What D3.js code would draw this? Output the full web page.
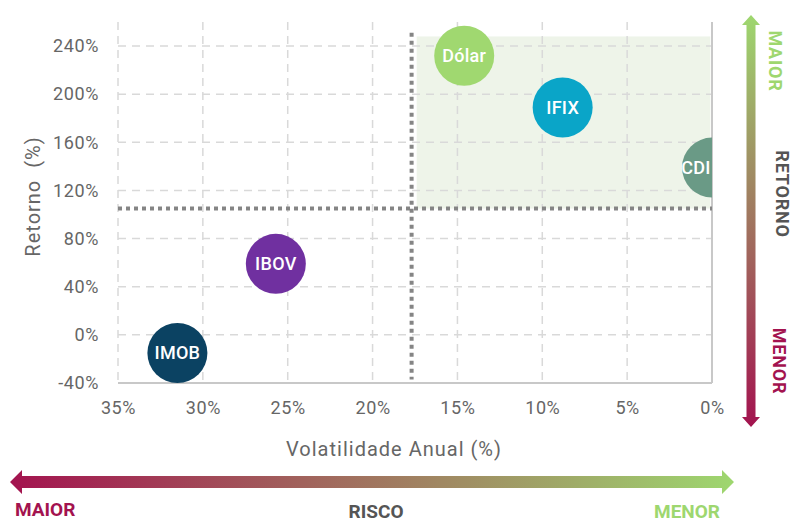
<!DOCTYPE html>
<html>
<head>
    <meta charset="utf-8">
    <script src="https://d3js.org/d3.v7.min.js"></script>
    <style>
        body { margin: 0; background: #fff; }
        text { font-family: Roboto, "Noto Sans", sans-serif; }
    </style>
</head>
<body>
<div id="container"></div>
<script>
    // dados do gráfico
    var assets = ["IMOB", "IBOV", "Dólar", "IFIX", "CDI"];
    var volatility = [31.5, 25.7, 14.6, 8.8, 0];
    var returns = [-15, 59, 232, 189, 139];
    var colors = ["#0b4262", "#7030a0", "#a0d870", "#0aa5c8", "#6a9a86"];

    var xTicks = [35, 30, 25, 20, 15, 10, 5, 0];
    var yTicks = [-40, 0, 40, 80, 120, 160, 200, 240];

    // linhas de referência (médias) e quadrante destacado
    var refVol = 17.7, refRet = 105;
    var refVolSpan = [-37, 251];
    var zoneVol = [17.4, 0.1], zoneRet = [105, 248];

    var svg_width = 792, svg_height = 524,
        margin = {left: 118, top: 22, right: 80, bottom: 141},
        width = svg_width - margin.left - margin.right,
        height = svg_height - margin.top - margin.bottom;

    var green = "#9ed76f", crimson = "#a3134f", darkGray = "#555";

    var svg = d3.select("#container").append("svg")
        .attr("width", svg_width)
        .attr("height", svg_height);

    var defs = svg.append("defs");
    defs.append("clipPath").attr("id", "plot-clip")
        .append("rect").attr("x", 0).attr("y", -margin.top).attr("width", width).attr("height", height + margin.top);

    var gv = defs.append("linearGradient").attr("id", "grad-v")
        .attr("x1", 0).attr("y1", 0).attr("x2", 0).attr("y2", 1);
    gv.append("stop").attr("offset", "0%").attr("stop-color", green);
    gv.append("stop").attr("offset", "100%").attr("stop-color", crimson);

    var gh = defs.append("linearGradient").attr("id", "grad-h")
        .attr("x1", 0).attr("y1", 0).attr("x2", 1).attr("y2", 0);
    gh.append("stop").attr("offset", "0%").attr("stop-color", crimson);
    gh.append("stop").attr("offset", "100%").attr("stop-color", green);

    var chart = svg.append("g")
        .attr("transform", `translate(${margin.left},${margin.top})`);

    var x = d3.scaleLinear().domain([35, 0]).range([0, width]);
    var y = d3.scaleLinear().domain([-40, 260]).range([height, 0]);

    // quadrante destacado
    chart.append("rect")
        .attr("x", x(zoneVol[0]))
        .attr("y", y(zoneRet[1]))
        .attr("width", x(zoneVol[1]) - x(zoneVol[0]))
        .attr("height", y(zoneRet[0]) - y(zoneRet[1]))
        .attr("fill", "#eef4e9");

    // grades tracejadas
    chart.append("g").selectAll("line")
        .data(xTicks.filter(v => v !== 0))
        .join("line")
        .attr("x1", d => x(d)).attr("x2", d => x(d))
        .attr("y1", 0).attr("y2", height)
        .attr("stroke", "#d9d9d9").attr("stroke-width", 1.5)
        .attr("stroke-dasharray", "8,6");

    chart.append("g").selectAll("line")
        .data(yTicks.filter(v => v !== -40))
        .join("line")
        .attr("x1", 0).attr("x2", width)
        .attr("y1", d => y(d)).attr("y2", d => y(d))
        .attr("stroke", "#d9d9d9").attr("stroke-width", 1.5)
        .attr("stroke-dasharray", "8,6");

    // eixos
    var axisX = d3.axisBottom(x).tickValues(xTicks).tickSize(0).tickPadding(18)
        .tickFormat(d => d + "%");
    var gx = chart.append("g").attr("transform", `translate(0,${height})`).call(axisX);
    gx.select(".domain").remove();

    var axisY = d3.axisLeft(y).tickValues(yTicks).tickSize(0).tickPadding(19)
        .tickFormat(d => d + "%");
    var gy = chart.append("g").call(axisY);
    gy.select(".domain").remove();

    [gx, gy].forEach(g => g.selectAll("text")
        .style("font-family", "Roboto, sans-serif")
        .style("font-size", "18px")
        .style("letter-spacing", "0.6px")
        .attr("fill", "#666"));

    chart.append("line")
        .attr("x1", 0).attr("x2", width).attr("y1", height).attr("y2", height)
        .attr("stroke", "#c8c8c8").attr("stroke-width", 2);
    chart.append("line")
        .attr("x1", width).attr("x2", width).attr("y1", 0).attr("y2", height)
        .attr("stroke", "#c8c8c8").attr("stroke-width", 2);

    // linhas pontilhadas de referência
    chart.append("line")
        .attr("x1", 0).attr("x2", width)
        .attr("y1", y(refRet)).attr("y2", y(refRet))
        .attr("stroke", "#858585").attr("stroke-width", 4)
        .attr("stroke-dasharray", "4,4");
    chart.append("line")
        .attr("x1", x(refVol)).attr("x2", x(refVol))
        .attr("y1", y(refVolSpan[1])).attr("y2", y(refVolSpan[0]))
        .attr("stroke", "#858585").attr("stroke-width", 4)
        .attr("stroke-dasharray", "4,4");

    // bolhas
    var data = assets.map((name, i) => ({name: name, vol: volatility[i], ret: returns[i], color: colors[i]}));
    var r = 30;

    var bubble = chart.append("g").selectAll("g")
        .data(data)
        .join("g");

    bubble.append("circle")
        .attr("clip-path", "url(#plot-clip)")
        .attr("cx", d => x(d.vol))
        .attr("cy", d => y(d.ret))
        .attr("r", r)
        .attr("fill", d => d.color);

    bubble.append("text")
        .text(d => d.name)
        .attr("x", d => Math.min(x(d.vol), width - 16))
        .attr("y", d => y(d.ret))
        .attr("dy", "0.36em")
        .attr("text-anchor", "middle")
        .attr("fill", "#fff")
        .style("font-size", "18px")
        .style("font-weight", 500)
        .style("letter-spacing", "0.3px");

    // títulos dos eixos
    svg.append("text")
        .text("Volatilidade Anual (%)")
        .attr("x", 394).attr("y", 456)
        .attr("text-anchor", "middle")
        .attr("fill", "#666")
        .style("font-size", "20px")
        .style("letter-spacing", "1px");

    svg.append("text")
        .text("Retorno  (%)")
        .attr("transform", `translate(40,${margin.top + height / 2 - 6}) rotate(-90)`)
        .attr("text-anchor", "middle")
        .attr("fill", "#666")
        .style("font-size", "20px")
        .style("letter-spacing", "1px")
        .style("white-space", "pre");

    // seta vertical (retorno)
    var ax = 751, aTop = 15, aBot = 427, sw = 9, hw = 18, hl = 10;
    svg.append("path")
        .attr("d", `M${ax},${aTop} L${ax + hw / 2},${aTop + hl} L${ax + sw / 2},${aTop + hl} L${ax + sw / 2},${aBot - hl}
            L${ax + hw / 2},${aBot - hl} L${ax},${aBot} L${ax - hw / 2},${aBot - hl} L${ax - sw / 2},${aBot - hl}
            L${ax - sw / 2},${aTop + hl} L${ax - hw / 2},${aTop + hl} Z`)
        .attr("fill", "url(#grad-v)");

    var vLabels = [
        {t: "MAIOR", x: 775, y: 61, c: green},
        {t: "RETORNO", x: 782, y: 194, c: darkGray},
        {t: "MENOR", x: 779, y: 361, c: crimson}
    ];
    svg.append("g").selectAll("text")
        .data(vLabels)
        .join("text")
        .text(d => d.t)
        .attr("transform", d => `translate(${d.x},${d.y}) rotate(90)`)
        .attr("text-anchor", "middle")
        .attr("dy", "0.36em")
        .attr("fill", d => d.c)
        .style("font-size", "18px")
        .style("font-weight", 700)
        .style("letter-spacing", "0.8px");

    // seta horizontal (risco)
    var hy = 482, hLeft = 10, hRight = 734, hsw = 12, hhw = 24, hhl = 12;
    svg.append("path")
        .attr("d", `M${hLeft},${hy} L${hLeft + hhl},${hy - hhw / 2} L${hLeft + hhl},${hy - hsw / 2} L${hRight - hhl},${hy - hsw / 2}
            L${hRight - hhl},${hy - hhw / 2} L${hRight},${hy} L${hRight - hhl},${hy + hhw / 2} L${hRight - hhl},${hy + hsw / 2}
            L${hLeft + hhl},${hy + hsw / 2} L${hLeft + hhl},${hy + hhw / 2} Z`)
        .attr("fill", "url(#grad-h)");

    var hLabels = [
        {t: "MAIOR", x: 15, y: 516, a: "start", c: crimson},
        {t: "RISCO", x: 376, y: 518, a: "middle", c: darkGray},
        {t: "MENOR", x: 720, y: 518, a: "end", c: green}
    ];
    svg.append("g").selectAll("text")
        .data(hLabels)
        .join("text")
        .text(d => d.t)
        .attr("x", d => d.x).attr("y", d => d.y)
        .attr("text-anchor", d => d.a)
        .attr("fill", d => d.c)
        .style("font-size", "19px")
        .style("font-weight", 700);
</script>
</body>
</html>
